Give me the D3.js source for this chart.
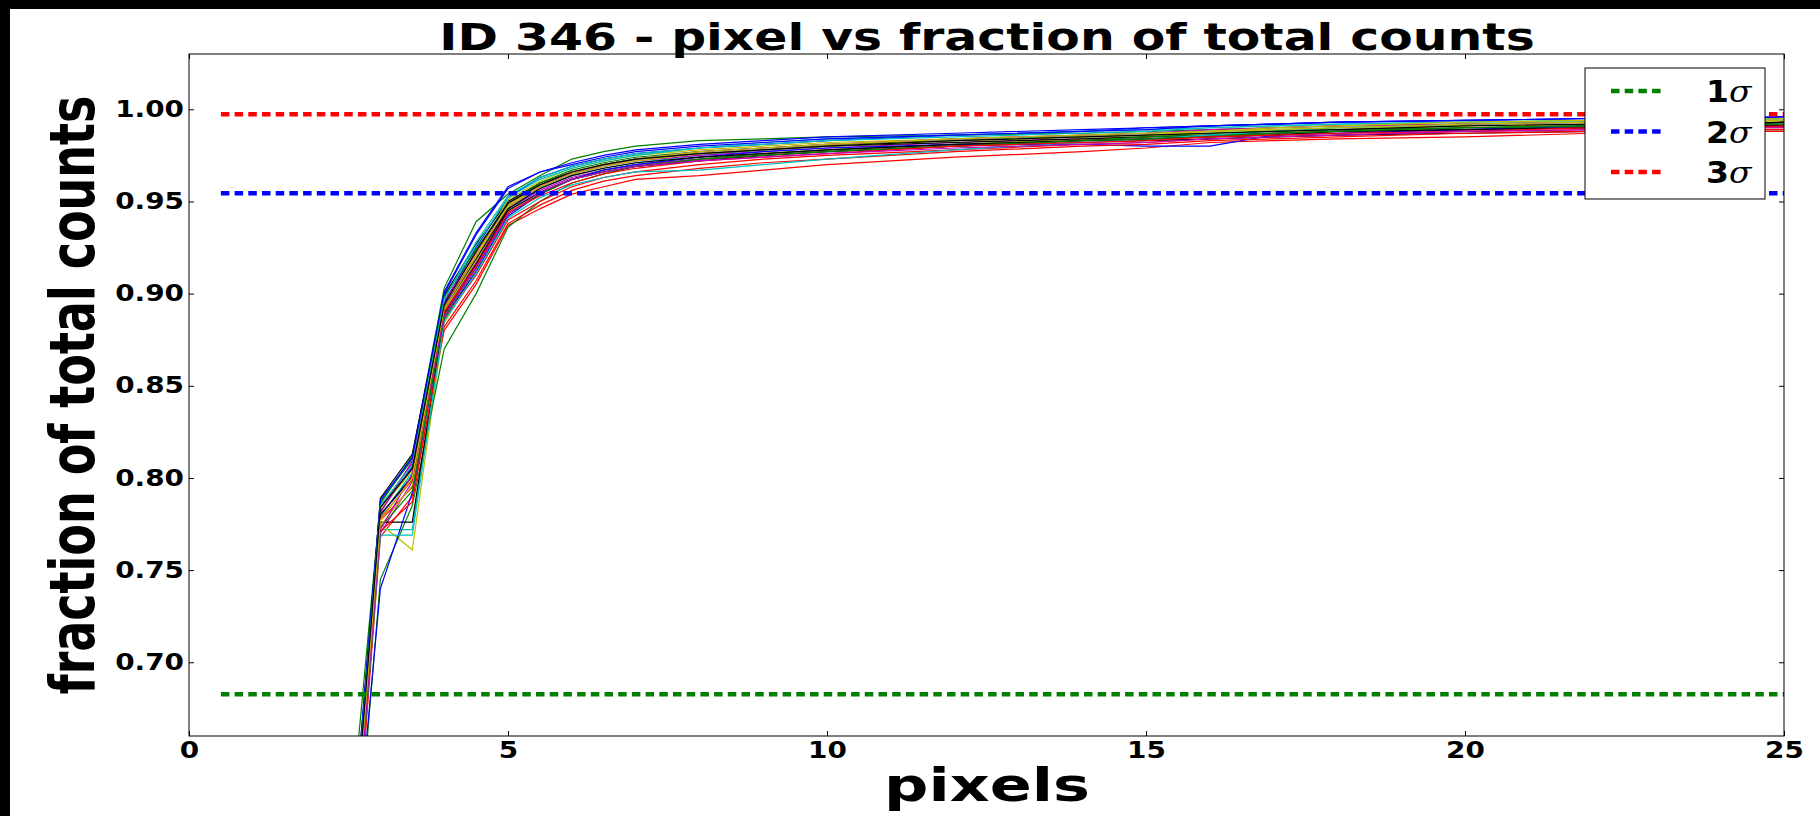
<!DOCTYPE html>
<html>
<head>
<meta charset="utf-8">
<script src="https://cdn.jsdelivr.net/npm/d3@7"></script>
<style>
  body { margin: 0; background: #fff; overflow: hidden; }
  svg { display: block; }
  text { font-family: "DejaVu Sans", sans-serif; font-weight: bold; fill: #000; }
</style>
</head>
<body>
<svg id="chart" width="1820" height="816"></svg>
<script>
// pixel radius samples shared by all curves
var radii = [2.5, 3, 3.5, 4, 4.5, 5, 5.5, 6, 6.5, 7, 8, 9, 10, 12, 14, 15, 16, 17, 18, 20, 22, 24, 25];

// fraction of total counts, one row per source
var curves = [
  [0.560, 0.780, 0.800, 0.895, 0.925, 0.952, 0.963, 0.969, 0.973, 0.976, 0.979, 0.981, 0.983, 0.986, 0.988, 0.990, 0.991, 0.992, 0.993, 0.994, 0.995, 0.995, 0.996],
  [0.600, 0.786, 0.812, 0.903, 0.939, 0.954, 0.964, 0.973, 0.977, 0.980, 0.983, 0.984, 0.985, 0.986, 0.987, 0.988, 0.989, 0.990, 0.991, 0.992, 0.993, 0.993, 0.994],
  [0.540, 0.768, 0.790, 0.880, 0.905, 0.937, 0.946, 0.954, 0.958, 0.962, 0.964, 0.967, 0.970, 0.974, 0.977, 0.979, 0.982, 0.983, 0.984, 0.985, 0.987, 0.988, 0.988],
  [0.555, 0.772, 0.772, 0.888, 0.915, 0.945, 0.957, 0.964, 0.968, 0.971, 0.975, 0.978, 0.980, 0.983, 0.986, 0.987, 0.988, 0.989, 0.990, 0.992, 0.993, 0.994, 0.995],
  [0.570, 0.784, 0.808, 0.896, 0.922, 0.948, 0.959, 0.965, 0.969, 0.972, 0.975, 0.977, 0.979, 0.982, 0.984, 0.985, 0.986, 0.987, 0.988, 0.990, 0.991, 0.992, 0.992],
  [0.545, 0.775, 0.761, 0.884, 0.913, 0.944, 0.955, 0.962, 0.967, 0.970, 0.974, 0.976, 0.978, 0.981, 0.984, 0.985, 0.987, 0.988, 0.989, 0.991, 0.992, 0.993, 0.994],
  [0.575, 0.789, 0.813, 0.899, 0.927, 0.950, 0.960, 0.966, 0.970, 0.973, 0.976, 0.978, 0.980, 0.982, 0.984, 0.985, 0.986, 0.987, 0.988, 0.989, 0.990, 0.991, 0.991],
  [0.565, 0.782, 0.806, 0.900, 0.932, 0.957, 0.966, 0.971, 0.975, 0.978, 0.981, 0.983, 0.985, 0.987, 0.989, 0.990, 0.991, 0.992, 0.993, 0.994, 0.995, 0.995, 0.996],
  [0.535, 0.745, 0.785, 0.870, 0.900, 0.936, 0.950, 0.960, 0.965, 0.969, 0.973, 0.976, 0.978, 0.981, 0.983, 0.985, 0.986, 0.987, 0.988, 0.990, 0.991, 0.992, 0.993],
  [0.550, 0.777, 0.795, 0.886, 0.910, 0.940, 0.950, 0.958, 0.963, 0.966, 0.970, 0.973, 0.975, 0.978, 0.981, 0.982, 0.984, 0.985, 0.986, 0.988, 0.989, 0.990, 0.990],
  [0.562, 0.779, 0.803, 0.897, 0.928, 0.953, 0.963, 0.969, 0.973, 0.976, 0.979, 0.982, 0.984, 0.986, 0.988, 0.989, 0.990, 0.991, 0.992, 0.993, 0.994, 0.995, 0.995],
  [0.548, 0.770, 0.798, 0.890, 0.917, 0.946, 0.956, 0.963, 0.967, 0.970, 0.973, 0.975, 0.977, 0.980, 0.983, 0.984, 0.985, 0.986, 0.987, 0.989, 0.990, 0.991, 0.991],
  [0.568, 0.783, 0.804, 0.894, 0.921, 0.951, 0.961, 0.968, 0.972, 0.975, 0.978, 0.980, 0.982, 0.984, 0.986, 0.987, 0.988, 0.989, 0.990, 0.991, 0.992, 0.993, 0.993],
  [0.558, 0.776, 0.776, 0.889, 0.916, 0.945, 0.955, 0.962, 0.966, 0.969, 0.972, 0.975, 0.977, 0.980, 0.982, 0.983, 0.984, 0.985, 0.986, 0.987, 0.988, 0.989, 0.989],
  [0.552, 0.740, 0.792, 0.887, 0.912, 0.942, 0.954, 0.962, 0.967, 0.970, 0.974, 0.977, 0.979, 0.981, 0.981, 0.980, 0.980, 0.986, 0.987, 0.989, 0.991, 0.992, 0.993],
  [0.572, 0.787, 0.810, 0.898, 0.924, 0.949, 0.960, 0.967, 0.971, 0.974, 0.977, 0.979, 0.981, 0.983, 0.985, 0.986, 0.987, 0.988, 0.989, 0.990, 0.991, 0.992, 0.992],
  [0.545, 0.771, 0.787, 0.882, 0.907, 0.938, 0.948, 0.956, 0.961, 0.964, 0.968, 0.971, 0.973, 0.977, 0.980, 0.981, 0.983, 0.984, 0.985, 0.987, 0.988, 0.989, 0.989],
  [0.552, 0.769, 0.769, 0.885, 0.911, 0.941, 0.952, 0.959, 0.963, 0.966, 0.967, 0.970, 0.973, 0.978, 0.982, 0.984, 0.986, 0.988, 0.990, 0.992, 0.993, 0.994, 0.994],
  [0.566, 0.781, 0.809, 0.893, 0.920, 0.947, 0.958, 0.965, 0.970, 0.973, 0.977, 0.979, 0.981, 0.984, 0.986, 0.987, 0.989, 0.990, 0.991, 0.992, 0.993, 0.994, 0.994],
  [0.556, 0.774, 0.796, 0.891, 0.918, 0.947, 0.958, 0.965, 0.969, 0.972, 0.976, 0.978, 0.980, 0.983, 0.985, 0.986, 0.988, 0.989, 0.990, 0.992, 0.993, 0.994, 0.994],
  [0.563, 0.780, 0.801, 0.892, 0.919, 0.946, 0.957, 0.964, 0.968, 0.971, 0.974, 0.976, 0.978, 0.981, 0.983, 0.984, 0.985, 0.986, 0.988, 0.989, 0.990, 0.991, 0.991],
  [0.578, 0.788, 0.811, 0.901, 0.933, 0.958, 0.966, 0.970, 0.974, 0.977, 0.980, 0.982, 0.984, 0.986, 0.988, 0.989, 0.991, 0.992, 0.993, 0.994, 0.995, 0.995, 0.996],
  [0.550, 0.773, 0.793, 0.887, 0.914, 0.943, 0.954, 0.962, 0.966, 0.969, 0.973, 0.975, 0.977, 0.980, 0.983, 0.984, 0.985, 0.987, 0.988, 0.990, 0.991, 0.992, 0.992],
  [0.558, 0.778, 0.799, 0.890, 0.915, 0.944, 0.953, 0.960, 0.965, 0.968, 0.972, 0.974, 0.976, 0.980, 0.982, 0.983, 0.985, 0.986, 0.987, 0.988, 0.990, 0.990, 0.991],
  [0.570, 0.785, 0.807, 0.897, 0.926, 0.952, 0.962, 0.968, 0.972, 0.975, 0.979, 0.981, 0.983, 0.985, 0.987, 0.988, 0.990, 0.991, 0.992, 0.993, 0.994, 0.995, 0.995],
  [0.553, 0.772, 0.802, 0.888, 0.914, 0.943, 0.955, 0.962, 0.966, 0.969, 0.972, 0.974, 0.976, 0.979, 0.981, 0.982, 0.984, 0.985, 0.986, 0.988, 0.989, 0.990, 0.990],
  [0.561, 0.777, 0.800, 0.892, 0.920, 0.948, 0.959, 0.966, 0.970, 0.973, 0.977, 0.979, 0.981, 0.984, 0.986, 0.987, 0.988, 0.990, 0.991, 0.993, 0.994, 0.994, 0.995],
  [0.567, 0.784, 0.805, 0.894, 0.923, 0.949, 0.959, 0.966, 0.970, 0.973, 0.976, 0.978, 0.980, 0.983, 0.985, 0.986, 0.987, 0.988, 0.989, 0.991, 0.992, 0.992, 0.993]
];

// sigma reference levels
var sigmaLevels = [0.6827, 0.9545, 0.9973];
var sigmaNames = ["1", "2", "3"];
var sigmaSpan = [0.5, 25];

var xTicks = [0, 5, 10, 15, 20, 25];
var yTicks = [0.70, 0.75, 0.80, 0.85, 0.90, 0.95, 1.00];

// old matplotlib colour cycle b g r c m y k
var cycle = ["#0000ff", "#008000", "#ff0000", "#00bfbf", "#bf00bf", "#bfbf00", "#000000"];
var sigmaColors = ["#008000", "#0000ff", "#ff0000"];

var svg = d3.select("#chart");
var sx = 1.32;   // the picture is stretched sideways, so is its text

var plotL = 189, plotR = 1784, plotT = 54, plotB = 736;

var x = d3.scaleLinear().domain([0, 25]).range([plotL, plotR]);
var y = d3.scaleLinear().domain([0.66, 1.03]).range([plotB, plotT]);

svg.append("rect").attr("width", 1820).attr("height", 816).attr("fill", "#fff");
// black edges of the screenshot
svg.append("rect").attr("x", 0).attr("y", 0).attr("width", 1820).attr("height", 9).attr("fill", "#000");
svg.append("rect").attr("x", 0).attr("y", 0).attr("width", 10).attr("height", 816).attr("fill", "#000");

svg.append("clipPath").attr("id", "plotclip")
  .append("rect").attr("x", plotL).attr("y", plotT).attr("width", plotR - plotL).attr("height", plotB - plotT);

var plot = svg.append("g").attr("clip-path", "url(#plotclip)");

var line = d3.line().x(function (d) { return x(d[0]); }).y(function (d) { return y(d[1]); });

curves.forEach(function (vals, i) {
  plot.append("path")
    .datum(radii.map(function (r, j) { return [r, vals[j]]; }))
    .attr("d", line)
    .attr("fill", "none")
    .attr("stroke", cycle[i % cycle.length])
    .attr("stroke-width", 1.2);
});

sigmaLevels.forEach(function (lv, i) {
  plot.append("line")
    .attr("x1", x(sigmaSpan[0])).attr("x2", x(sigmaSpan[1]))
    .attr("y1", y(lv)).attr("y2", y(lv))
    .attr("stroke", sigmaColors[i])
    .attr("stroke-width", 4.5)
    .attr("stroke-dasharray", "8.5 5.2");
});

// axes, ticks pointing inwards on all four sides
function stretchText(sel, k) {
  sel.selectAll("text").each(function () {
    var t = d3.select(this);
    var tx = +t.attr("x") || 0, ty = +t.attr("y") || 0;
    t.attr("x", 0).attr("y", 0)
      .attr("transform", "translate(" + tx + "," + ty + ") scale(" + k + ",1)");
  });
}

var gx = svg.append("g").attr("transform", "translate(0," + plotB + ")")
  .call(d3.axisBottom(x).tickValues(xTicks).tickSize(-5).tickSizeOuter(0).tickPadding(6).tickFormat(d3.format("d")));
var gy = svg.append("g").attr("transform", "translate(" + plotL + ",0)")
  .call(d3.axisLeft(y).tickValues(yTicks).tickSize(-5).tickSizeOuter(0).tickPadding(5).tickFormat(d3.format(".2f")));
svg.append("g").attr("transform", "translate(0," + plotT + ")")
  .call(d3.axisTop(x).tickValues(xTicks).tickSize(-5).tickSizeOuter(0).tickFormat(""));
svg.append("g").attr("transform", "translate(" + plotR + ",0)")
  .call(d3.axisRight(y).tickValues(yTicks).tickSize(-5).tickSizeOuter(0).tickFormat(""));

svg.selectAll(".domain").remove();
svg.selectAll(".tick line").attr("stroke", "#000");
[gx, gy].forEach(function (g) {
  g.selectAll("text").style("font-size", "22.5px").style("font-family", "DejaVu Sans").style("font-weight", "bold").attr("fill", "#000");
  stretchText(g, 1.24);
});

svg.append("rect").attr("x", plotL).attr("y", plotT).attr("width", plotR - plotL).attr("height", plotB - plotT)
  .attr("fill", "none").attr("stroke", "#000").attr("stroke-width", 1);

// titles
svg.append("text").attr("transform", "translate(987,50) scale(" + sx + ",1)")
  .attr("text-anchor", "middle").style("font-size", "37px")
  .text("ID 346 - pixel vs fraction of total counts");
svg.append("text").attr("transform", "translate(987,801) scale(" + sx + ",1)")
  .attr("text-anchor", "middle").style("font-size", "47px")
  .text("pixels");
svg.append("text").attr("transform", "translate(94,395) scale(1.36,1) rotate(-90)")
  .attr("text-anchor", "middle").style("font-size", "46px")
  .text("fraction of total counts");

// legend
var lg = svg.append("g");
lg.append("rect").attr("x", 1585).attr("y", 68).attr("width", 180).attr("height", 131)
  .attr("fill", "#fff").attr("stroke", "#000").attr("stroke-width", 1);
sigmaNames.forEach(function (nm, i) {
  var ly = 91 + i * 40.5;
  lg.append("line").attr("x1", 1611).attr("x2", 1663).attr("y1", ly).attr("y2", ly)
    .attr("stroke", sigmaColors[i]).attr("stroke-width", 4.5).attr("stroke-dasharray", "8.5 5.2");
  var t = lg.append("text").attr("transform", "translate(1706," + (ly + 11) + ") scale(1.1,1)")
    .style("font-size", "30px");
  t.append("tspan").text(nm);
  t.append("tspan").style("font-family", "DejaVu Serif").style("font-style", "italic")
    .style("font-weight", "normal").text("σ");
});
</script>
</body>
</html>
